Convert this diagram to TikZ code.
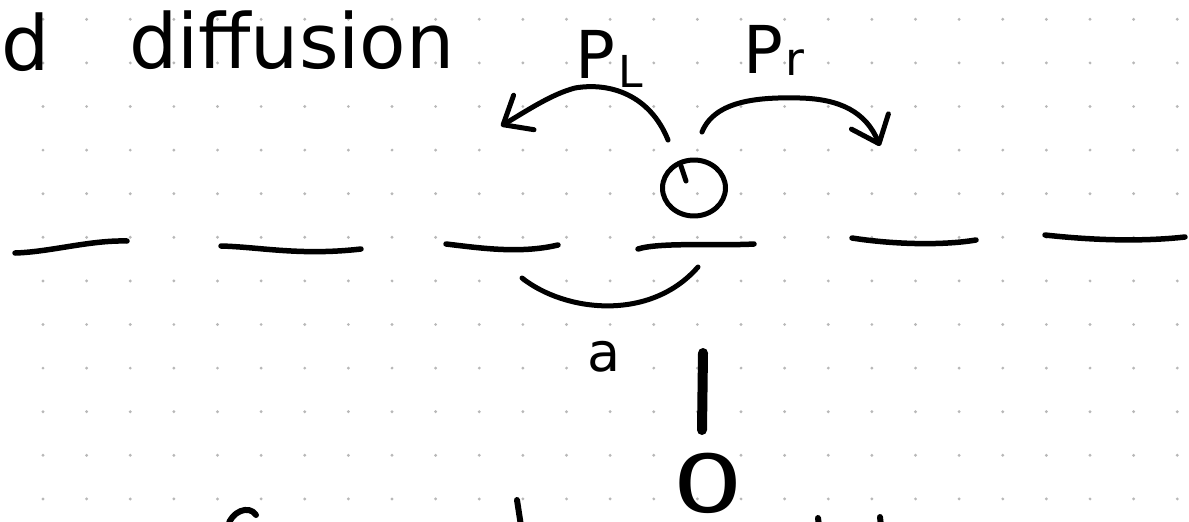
\documentclass[tikz,border=0pt]{standalone}
\usepackage{fontspec}
\setmainfont{DejaVu Sans}
\usetikzlibrary{arrows.meta, shapes.geometric}
\newcommand{\hand}[1]{\fontsize{#1}{#1}\selectfont}

\begin{document}
\begin{tikzpicture}[x=1pt, y=-1pt, line cap=round, line join=round,
  pen/.style={line width=5pt, black},
  site/.style={pen, line width=5.5pt},
  hop/.style={pen, -{Straight Barb[round, length=24pt, width=40pt]}},
  gridpt/.style={fill=black!28},
  label/.style={anchor=base west, inner sep=0pt}]
  \useasboundingbox (0,0) rectangle (1189,522);
  \clip (0,0) rectangle (1189,522);

  % dot paper
  \foreach \x in {43,86.625,...,1180}
    \foreach \y in {19.3,62.9,...,510}
      \fill[gridpt] (\x,\y) circle (1.6);

  % heading (cut off on the left)
  \node[label] (headd) at (1,70) {\hand{76}d};
  \node[label] (heading) at (129,68) {\hand{76}diffusion};

  % lattice sites
  \draw[site] (15,253) .. controls (50,252) and (90,240) .. (127,241);
  \draw[site] (221,246) .. controls (260,247) and (300,256) .. (361,249);
  \draw[site] (446,244) .. controls (480,248) and (520,254) .. (558,245);
  \draw[site] (638,249) .. controls (660,242) and (720,246) .. (754,244);
  \draw[site] (852,238) .. controls (890,244) and (940,246) .. (976,240);
  \draw[site] (1045,235) .. controls (1090,240) and (1140,242) .. (1185,237);

  % particle on its site
  \node[draw, ellipse, line width=5pt, minimum width=63pt, minimum height=56pt,
    inner sep=0pt] (particle) at (694,188) {};
  \draw[pen] (681,166) -- (686,181);

  % hops left and right
  \coordinate (startL) at (668,140);
  \coordinate (startR) at (702,132);
  \coordinate (hopL) at (501,126);
  \coordinate (hopR) at (880,146);
  \draw[hop] (startL) .. controls (650,95) and (610,82) .. (575,88)
    .. controls (552,94) and (528,110) .. (hopL);
  \draw[hop] (startR) .. controls (715,100) and (760,97) .. (800,98)
    .. controls (840,99) and (866,112) .. (hopR);
  \node[label] (pl) at (575,78) {\hand{66}P\kern3pt\raisebox{-9pt}{\hand{44}L}};
  \node[label] (pr) at (743,73) {\hand{66}P\kern2pt\raisebox{-2pt}{\hand{46}r}};

  % spacing a
  \coordinate (braceL) at (522,278);
  \coordinate (braceR) at (698,267);
  \draw[pen] (braceL) .. controls (565,312) and (650,322) .. (braceR);
  \node[anchor=base, inner sep=0pt] (spacing) at (604,371) {\hand{54}a};

  % origin mark
  \coordinate (tickT) at (703,353);
  \coordinate (tickB) at (702,430);
  \draw[line width=10pt] (tickT) -- (tickB);
  \node[inner sep=0pt] (origin) at (708,483) {\hand{80}\scalebox{1.4}[1]{0}};

  % next line, cut off at the bottom edge
  \draw[pen, line width=6pt] (228,526) .. controls (231,512) and (249,504) .. (256,515);
  \draw[pen, line width=6pt] (517,500) -- (521,526);
  \draw[pen, line width=6pt] (818,518) -- (819,526);
  \draw[pen, line width=6pt] (880,517) -- (881,526);
\end{tikzpicture}
\end{document}
